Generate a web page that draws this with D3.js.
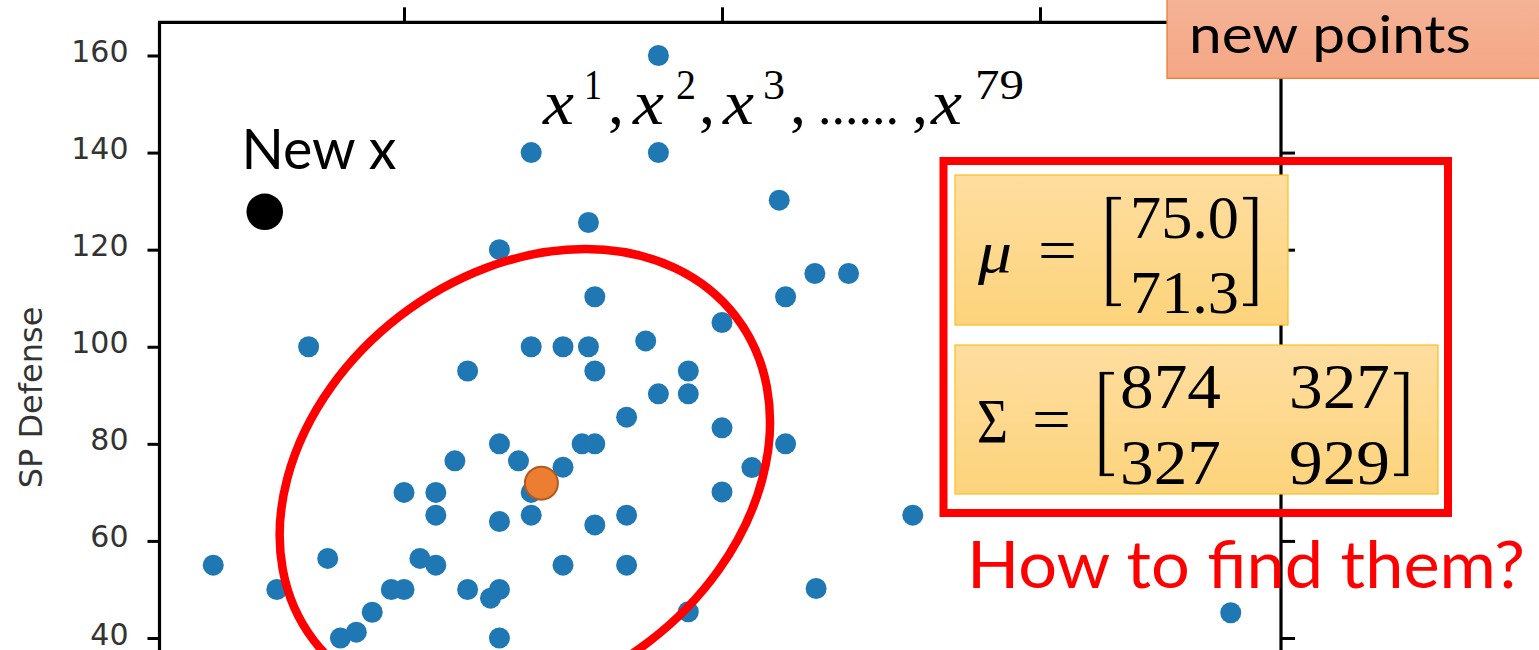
<!DOCTYPE html>
<html><head><meta charset="utf-8">
<script src="https://cdn.jsdelivr.net/npm/d3@7"></script>
<style>body{margin:0;background:#fff;overflow:hidden}svg{display:block}</style>
</head><body>
<svg id="chart" width="1539" height="650"></svg>
<script>
// ---------- data ----------
const pointsX = [20,30,35,38,40,42.5,45,48,50,52.5,55,50,55,55,58,60,60,63.6,65,65,65,65,65,68,70,70,70,70,75,75,75,78,80,79,79,80,80,80,85,85,85,88,90,90,90,94.7,94.7,94.7,100,100,100,104.7,109,110,110,114.6,114.8,119.9,130,180];
const pointsY = [55,50,100,56.4,40,41.2,45.3,50,50,56.4,55,70,70,65.3,76.5,95,50,48.2,50,40,64,80,120,76.5,100,65.3,70,140,100,75.2,55,80,80,125.6,100,95,110.3,63.3,85.5,65.3,55,101.2,160,140,90.3,95,90.3,45.4,105,83.3,70.1,75.1,130.2,110.3,80,115.1,50.2,115.1,65.3,45.2];
const newPoint = [28.1, 127.8];          // "New x"
const meanMarker = [71.6, 71.9];         // orange mean marker
const ellipseCenter = [69.0, 72.85];     // centre of the drawn red ellipse
const yTicks = [40, 60, 80, 100, 120, 140, 160];
const xTicks = [50, 100, 150];
const yLabel = "SP Defense";
const muValues = ["75.0", "71.3"];
const sigmaValues = [["874", "327"], ["327", "929"]];
const seqLabels = ["1", "2", "3", "79"];

// ---------- layout ----------
const plotLeft = 159.5, plotRight = 1281, plotTop = 22.3, plotBottom = 650;
const svg = d3.select("#chart");
const x = d3.scaleLinear().domain([11.55, 187.9]).range([plotLeft, plotRight]);
const y = d3.scaleLinear().domain([40, 160]).range([638, 55.5]);

const defs = svg.append("defs");
const g1 = defs.append("linearGradient").attr("id","gold").attr("x1",0).attr("y1",0).attr("x2",0).attr("y2",1);
g1.append("stop").attr("offset","0%").attr("stop-color","#fedd9f");
g1.append("stop").attr("offset","100%").attr("stop-color","#fdd47c");
const g2 = defs.append("linearGradient").attr("id","salmon").attr("x1",0).attr("y1",0).attr("x2",0).attr("y2",1);
g2.append("stop").attr("offset","0%").attr("stop-color","#f4b397");
g2.append("stop").attr("offset","100%").attr("stop-color","#f5a785");

// ---------- axes ----------
const axL = svg.append("g").attr("transform",`translate(${plotLeft},0)`)
  .call(d3.axisLeft(y).tickValues(yTicks).tickSize(12).tickSizeOuter(0).tickPadding(19));
axL.select(".domain").remove();
axL.selectAll(".tick line").attr("stroke","#000").attr("stroke-width",3);
axL.selectAll(".tick text").attr("font-family","DejaVu Sans").attr("font-size",30)
  .attr("fill","#333").attr("dy","0.2em");

const axR = svg.append("g").attr("transform",`translate(${plotRight},0)`)
  .call(d3.axisRight(y).tickValues(yTicks).tickSize(14).tickSizeOuter(0).tickFormat(""));
axR.select(".domain").remove();
axR.selectAll(".tick line").attr("stroke","#000").attr("stroke-width",3);

const axT = svg.append("g").attr("transform",`translate(0,${plotTop})`)
  .call(d3.axisTop(x).tickValues(xTicks).tickSize(15).tickSizeOuter(0).tickFormat(""));
axT.select(".domain").remove();
axT.selectAll(".tick line").attr("stroke","#000").attr("stroke-width",3);

// frame
svg.append("line").attr("x1",plotLeft-1.5).attr("x2",plotRight+1.5).attr("y1",plotTop).attr("y2",plotTop).attr("stroke","#000").attr("stroke-width",3.2);
svg.append("line").attr("x1",plotLeft).attr("x2",plotLeft).attr("y1",plotTop).attr("y2",plotBottom).attr("stroke","#000").attr("stroke-width",3.2);
svg.append("line").attr("x1",plotRight).attr("x2",plotRight).attr("y1",plotTop).attr("y2",plotBottom).attr("stroke","#000").attr("stroke-width",3.2);

svg.append("text").attr("transform","translate(42,397.5) rotate(-90)")
  .attr("text-anchor","middle").attr("font-family","DejaVu Sans").attr("font-size",32)
  .attr("fill","#333").text(yLabel);

// ---------- points ----------
const pts = pointsX.map((v,i)=>({x:v,y:pointsY[i]}));
svg.append("g").selectAll("circle").data(pts).join("circle")
  .attr("cx",d=>x(d.x)).attr("cy",d=>y(d.y)).attr("r",10.5).attr("fill","#1f77b4");

// ellipse
svg.append("ellipse")
  .attr("transform",`translate(${x(ellipseCenter[0])},${y(ellipseCenter[1])}) rotate(-37.5)`)
  .attr("rx",266).attr("ry",205).attr("fill","none").attr("stroke","#ff0000").attr("stroke-width",8.5);

// mean marker
svg.append("circle").attr("cx",x(meanMarker[0])).attr("cy",y(meanMarker[1])).attr("r",16.5)
  .attr("fill","#ed7d31").attr("stroke","#ae5a21").attr("stroke-width",2);

// new point
svg.append("circle").attr("cx",x(newPoint[0])).attr("cy",y(newPoint[1])).attr("r",18.3).attr("fill","#000");
svg.append("text").attr("x",241.5).attr("y",169.3).attr("font-family","Lato").attr("font-size",56)
  .attr("textLength",155).attr("lengthAdjust","spacingAndGlyphs").attr("fill","#000").text("New x");

// ---------- x^1, x^2, x^3, ..... , x^79  (one text element) ----------
const mathFont = "Liberation Serif";
const seq = svg.append("text").attr("font-family",mathFont).attr("fill","#000").attr("y",124);
const xs = [543, 633, 723, 931];
const sups = [584, 676, 763, 975];
const supW = [18, 20, 22, 49];
const commas = [608, 699, 790, 912];
function addX(i){
  seq.append("tspan").attr("x",xs[i]).attr("y",124).attr("font-size",64).attr("font-style","italic")
    .attr("textLength",31).attr("lengthAdjust","spacingAndGlyphs").text("x");
  seq.append("tspan").attr("x",sups[i]).attr("y",98.5).attr("font-size",43)
    .attr("textLength",supW[i]).attr("lengthAdjust","spacingAndGlyphs").text(seqLabels[i]);
}
function addComma(i){
  seq.append("tspan").attr("x",commas[i]).attr("y",124).attr("font-size",64).text(",");
}
addX(0); addComma(0); addX(1); addComma(1); addX(2); addComma(2);
seq.append("tspan").attr("x",818).attr("y",124).attr("font-size",54).text("......");
addComma(3); addX(3);

// ---------- new points box ----------
svg.append("rect").attr("x",1167).attr("y",-5).attr("width",380).attr("height",83.3)
  .attr("fill","url(#salmon)").attr("stroke","#ed7d31").attr("stroke-width",1.3);
svg.append("text").attr("x",1189).attr("y",53).attr("font-family","Lato").attr("font-size",53)
  .attr("textLength",282).attr("lengthAdjust","spacingAndGlyphs").attr("fill","#000").text("new points");

// ---------- mu / sigma boxes ----------
svg.append("rect").attr("x",955).attr("y",175).attr("width",333).attr("height",150)
  .attr("fill","url(#gold)").attr("stroke","#fbbf22").attr("stroke-width",1.2);
svg.append("rect").attr("x",955).attr("y",345).attr("width",483).attr("height",149)
  .attr("fill","url(#gold)").attr("stroke","#fbbf22").attr("stroke-width",1.2);

svg.append("rect").attr("x",943.5).attr("y",161).attr("width",504.5).attr("height",352)
  .attr("fill","none").attr("stroke","#ff0000").attr("stroke-width",8);

const mt = svg.append("g").attr("font-family",mathFont).attr("fill","#000");
function bracket(x0, top, bot, dir){ // dir = 1 for "[" , -1 for "]"
  mt.append("line").attr("x1",x0).attr("x2",x0).attr("y1",top).attr("y2",bot).attr("stroke","#000").attr("stroke-width",4.5);
  [top+1.2, bot-1.2].forEach(yy=>mt.append("line").attr("x1",x0-2.2*dir).attr("x2",x0+12*dir)
    .attr("y1",yy).attr("y2",yy).attr("stroke","#000").attr("stroke-width",2.6));
}
// mu
mt.append("text").attr("x",978).attr("y",272).attr("font-size",60).attr("font-style","italic")
  .attr("textLength",34).attr("lengthAdjust","spacingAndGlyphs").text("μ");
mt.append("text").attr("x",1038).attr("y",270).attr("font-size",60)
  .attr("textLength",39).attr("lengthAdjust","spacingAndGlyphs").text("=");
bracket(1109, 197, 306, 1);
bracket(1255, 197, 306, -1);
muValues.forEach((v,i)=>{
  mt.append("text").attr("x",1130).attr("y",[238,313][i]).attr("font-size",61)
    .attr("textLength",109).attr("lengthAdjust","spacingAndGlyphs").text(v);
});
// sigma
mt.append("text").attr("x",977).attr("y",443).attr("font-size",64)
  .attr("textLength",31).attr("lengthAdjust","spacingAndGlyphs").text("Σ");
mt.append("text").attr("x",1032).attr("y",439).attr("font-size",60)
  .attr("textLength",39).attr("lengthAdjust","spacingAndGlyphs").text("=");
bracket(1102, 372, 476, 1);
bracket(1406, 372, 476, -1);
sigmaValues.forEach((row,i)=>row.forEach((v,j)=>{
  mt.append("text").attr("x",[1120,1289][j]).attr("y",[408,484][i]).attr("font-size",64)
    .attr("textLength",101).attr("lengthAdjust","spacingAndGlyphs").text(v);
}));

// ---------- question ----------
svg.append("text").attr("x",967).attr("y",588.3).attr("font-family","Lato").attr("font-size",65)
  .attr("textLength",558).attr("lengthAdjust","spacingAndGlyphs").attr("fill","#ff0000").text("How to find them?");
</script>
</body></html>
